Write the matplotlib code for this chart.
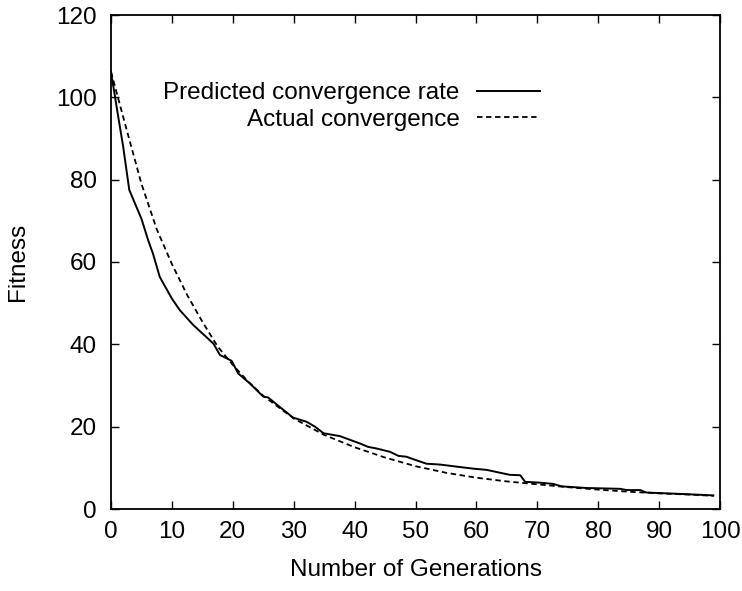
import matplotlib
matplotlib.use("Agg")
import matplotlib.pyplot as plt

# Predicted convergence rate (solid)
pred_gen = [0, 1, 2, 3, 5, 6.1, 6.9, 8, 10, 11.3, 13.5, 16.8, 17.9, 19.8, 20.9,
            22.8, 25, 25.8, 27.7, 29.9, 32.1, 33.5, 34.9, 37.6, 40.9, 42.2,
            43.6, 45.8, 47.2, 48.5, 50.4, 51.8, 54, 56.7, 59.5, 61.7, 63.9,
            65.5, 67.2, 68, 70.4, 72.6, 74, 78.1, 83.6, 84.7, 86.9, 87.9,
            94.5, 98.9]
pred_fit = [106.2, 97, 88, 77.5, 70.5, 65.3, 62, 56.4, 51.1, 48.3, 44.7, 40.2,
            37.4, 36, 32.9, 30.5, 27.3, 27.1, 24.8, 22.2, 21.2, 20, 18.4, 17.7,
            15.9, 15.1, 14.7, 13.9, 12.9, 12.7, 11.7, 11.0, 10.8, 10.3, 9.8,
            9.5, 8.8, 8.3, 8.2, 6.6, 6.4, 6.1, 5.5, 5.1, 4.9, 4.6, 4.6, 4.0,
            3.6, 3.3]

# Actual convergence (dashed)
act_gen = [0, 2.5, 5, 7.5, 10, 12.5, 15, 17.5, 20, 22.5, 25, 30, 35, 40, 45,
           50, 55, 60, 65, 70, 75, 80, 85, 90, 95, 99]
act_fit = [106.2, 92.5, 79, 68, 59.5, 52, 45.5, 39.5, 35, 31, 27.5, 22, 18,
           15, 12.5, 10.4, 8.8, 7.6, 6.7, 6.0, 5.3, 4.7, 4.2, 3.8, 3.5, 3.2]

x_ticks = [0, 10, 20, 30, 40, 50, 60, 70, 80, 90, 100]
y_ticks = [0, 20, 40, 60, 80, 100, 120]

plt.rcParams['font.family'] = ['Liberation Sans', 'DejaVu Sans']
FS = 17.5

fig = plt.figure(figsize=(7.42, 5.91), dpi=100)
ax = fig.add_axes([111/742, 1-509/591, (720-111)/742, (509-15)/591])

ax.plot(pred_gen, pred_fit, color='black', lw=1.4, label='Predicted convergence rate')
ax.plot(act_gen, act_fit, color='black', lw=1.3, linestyle=(0, (3, 2)),
        label='Actual convergence')

ax.set_xlim(0, 100)
ax.set_ylim(0, 120)
ax.set_xticks(x_ticks)
ax.set_yticks(y_ticks)
ax.tick_params(direction='in', top=True, right=True, length=6, width=1,
               labelsize=FS)
ax.tick_params(axis='x', pad=9)
ax.tick_params(axis='y', pad=10)
for s in ax.spines.values():
    s.set_linewidth(1.3)

ax.set_xlabel('Number of Generations', fontsize=FS, labelpad=11)
ax.set_ylabel('Fitness', fontsize=FS, labelpad=20)

ax.legend(loc='upper right', bbox_to_anchor=((540-111)/609, (509-82)/494),
          frameon=False, markerfirst=False, fontsize=FS, handlelength=2.6,
          handletextpad=0.7, borderpad=0, borderaxespad=0, labelspacing=0.2)

fig.savefig('out.png', dpi=100)
